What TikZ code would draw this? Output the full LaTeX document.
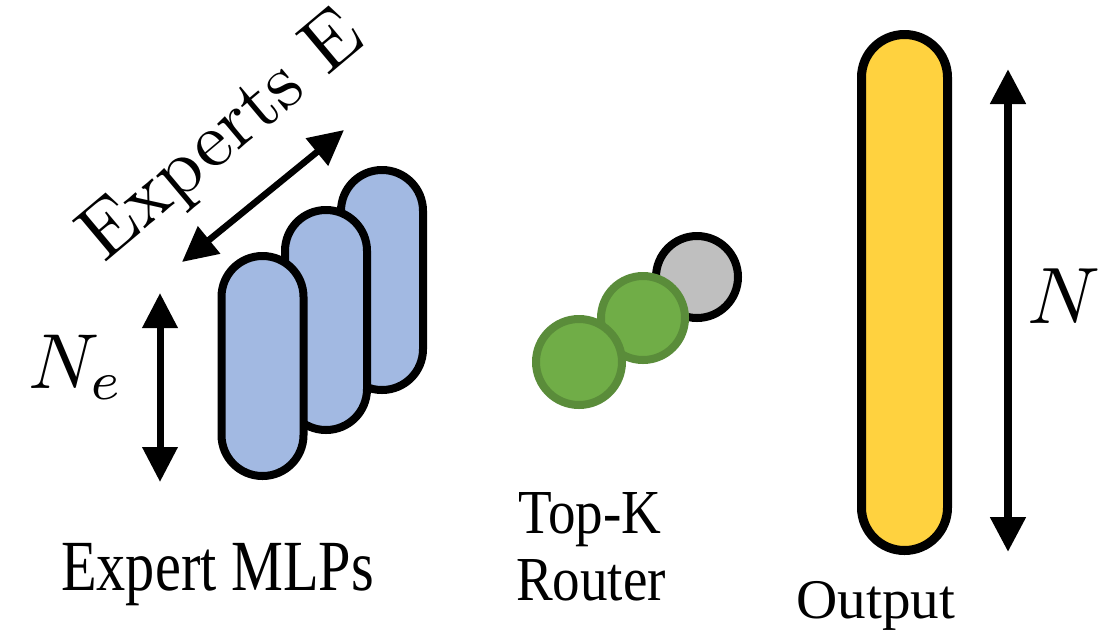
\documentclass[tikz,border=0pt]{standalone}
\usepackage{fontspec}
\newfontfamily\tms{Liberation Serif}
\usetikzlibrary{arrows.meta}
\definecolor{pillblue}{HTML}{A2B9E2}
\definecolor{pillyellow}{HTML}{FFD23F}
\definecolor{dotgreen}{HTML}{70AD47}
\definecolor{dotgreenline}{HTML}{5A8C3A}
\definecolor{dotgray}{HTML}{BFBFBF}
\tikzset{
  pill/.style={draw=black, fill=pillblue, line width=8pt, rounded corners=40.9pt,
    minimum width=82pt, minimum height=220pt, inner sep=0pt},
  outpill/.style={draw=black, fill=pillyellow, line width=9pt, rounded corners=42.9pt,
    minimum width=86pt, minimum height=516pt, inner sep=0pt},
  dot/.style={circle, line width=8pt, inner sep=0pt},
  dimarrow/.style={line width=#1, {Triangle[length=35pt,width=34pt]}-{Triangle[length=35pt,width=34pt]}},
  lbl/.style={inner sep=0pt, text=black},
}
\begin{document}
\begin{tikzpicture}[x=1pt,y=-1pt]
\useasboundingbox (0,0) rectangle (1113,630);
% expert MLPs
\node[pill] (e3) at (382,280) {};
\node[pill] (e2) at (326,320) {};
\node[pill] (e1) at (262.5,366) {};
% router
\node[dot, draw=black, fill=dotgray, minimum size=82pt] (g1) at (697,277) {};
\node[dot, draw=dotgreenline, fill=dotgreen, minimum size=84pt] (g2) at (643,318) {};
\node[dot, draw=dotgreenline, fill=dotgreen, minimum size=86pt] (g3) at (579,362) {};
% output
\node[outpill] (out) at (904.5,292.5) {};
% arrows
\coordinate (ea) at (182,262);
\coordinate (eb) at (344,130);
\draw[dimarrow=6.5pt] (ea) -- (eb);
\coordinate (na) at (160,293);
\coordinate (nb) at (160,482);
\draw[dimarrow=7pt] (na) -- (nb);
\coordinate (oa) at (1008,69);
\coordinate (ob) at (1008,552);
\draw[dimarrow=8pt] (oa) -- (ob);
% labels
\node[lbl, anchor=base west, rotate=40] (expE) at (104,264) {\scalebox{7.8}{Experts E}};
\node[lbl, anchor=base west] (ne) at (28,388) {\scalebox{7.8}{$N_e$}};
\node[lbl, anchor=base west] (nn) at (1027,323) {\scalebox{8}{$N$}};
\node[lbl, anchor=base west, font=\tms\fontsize{72}{80}\selectfont] (mlps) at (61,590) {\scalebox{0.81}[1]{Expert MLPs}};
\node[lbl, anchor=base, font=\tms\fontsize{62.6}{67}\selectfont] (topk) at (590,533) {\scalebox{0.88}[1]{Top-K}};
\node[lbl, anchor=base, font=\tms\fontsize{62.6}{67}\selectfont] (router) at (591,600) {\scalebox{0.88}[1]{Router}};
\node[lbl, anchor=base, font=\tms\fontsize{56}{60}\selectfont] (outl) at (876,618) {\scalebox{1.02}[1]{Output}};
\end{tikzpicture}
\end{document}
